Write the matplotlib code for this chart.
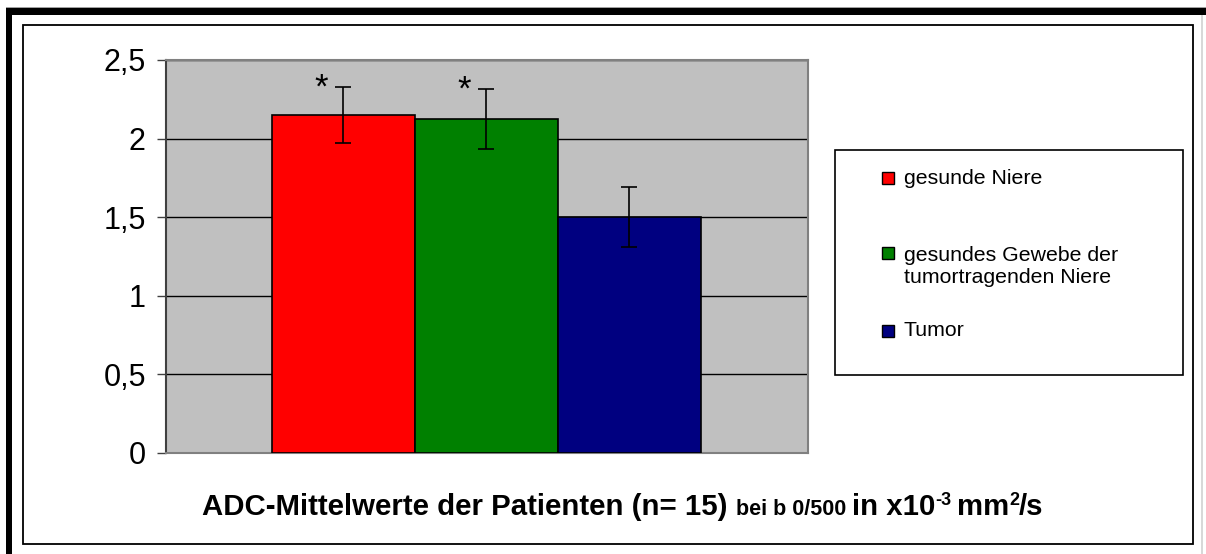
import matplotlib
matplotlib.use("Agg")
import matplotlib.pyplot as plt
from matplotlib.patches import Rectangle

# ---------------- data ----------------
series = ["gesunde Niere", "gesundes Gewebe der\ntumortragenden Niere", "Tumor"]
means = [2.15, 2.125, 1.50]
errors = [0.18, 0.19, 0.19]
significant = [True, True, False]
colors = ["#FF0000", "#008000", "#000080"]
yticks = [0, 0.5, 1, 1.5, 2, 2.5]
ytick_labels = ["0", "0,5", "1", "1,5", "2", "2,5"]

W, H = 1206, 554
fig = plt.figure(figsize=(W / 100, H / 100), dpi=100)
fig.patch.set_facecolor("white")
FAM = ["Liberation Sans", "DejaVu Sans"]


def fx(px):
    return px / W


def fy(py):
    return 1 - py / H


def rect(x0, y0, x1, y1, **kw):
    r = Rectangle((fx(x0), fy(y1)), (x1 - x0) / W, (y1 - y0) / H,
                  transform=fig.transFigure, **kw)
    fig.patches.append(r)
    return r


# outer frame decorations
rect(6, 7, 1206, 8, facecolor="#A0A0A0", edgecolor="none")
rect(6, 8, 1206, 15, facecolor="black", edgecolor="none")
rect(6, 8, 12, 554, facecolor="black", edgecolor="none")
rect(1201, 15, 1203, 554, facecolor="#D8D8D8", edgecolor="none")
rect(23, 25, 1193, 544, facecolor="none", edgecolor="black", linewidth=1.3)

# ---------------- axes ----------------
ax = fig.add_axes([fx(166), fy(453), (808 - 166) / W, (453 - 60) / H])
ax.set_facecolor("#C0C0C0")
ax.set_ylim(0, 2.5)
ax.set_xlim(-1.241, 3.249)
ax.set_axisbelow(True)
ax.yaxis.grid(True, color="black", linewidth=1)

for i, (m, e, c) in enumerate(zip(means, errors, colors)):
    ax.bar(i, m, width=1, color=c, edgecolor="black", linewidth=1.2,
           label=series[i], zorder=3)
    ax.errorbar(i, m, yerr=e, fmt="none", ecolor="black", elinewidth=1.2,
                capsize=6, capthick=1.2, zorder=4)
    if significant[i]:
        ax.text(i - 0.155, m + e - 0.068, "*", ha="center", va="baseline",
                fontsize=25, family=FAM, zorder=5)

ax.set_yticks(yticks)
ax.set_yticklabels(ytick_labels, family=FAM, fontsize=22)
ax.set_xticks([])
ax.tick_params(axis="y", direction="out", length=6.5, width=1,
               color="#404040", pad=8)
for s in ["top", "right", "bottom"]:
    ax.spines[s].set_color("#808080")
    ax.spines[s].set_linewidth(1.5)
ax.spines["left"].set_color("#404040")
ax.spines["left"].set_linewidth(1.5)

# ---------------- legend (Excel style) ----------------
rect(835, 150, 1183, 375, facecolor="white", edgecolor="black", linewidth=1.2)
leg_square_y = [178, 253, 331]
leg_text_y = [178, 266.5, 331]
for lab, c, sy, ty in zip(series, colors, leg_square_y, leg_text_y):
    rect(882, sy - 6, 894, sy + 6, facecolor=c, edgecolor="black", linewidth=1)
    fig.text(fx(904), fy(ty), lab, ha="left", va="center", fontsize=15.3,
             family=FAM, linespacing=1.2)

# ---------------- title (mixed sizes) ----------------
big, small, sup = 21.2, 15.5, 13.0
pieces = [("ADC-Mittelwerte der Patienten (n= 15)", big, 0, True),
          ("bei b 0/500", small, 0, True),
          ("in x10", big, 0, False),
          ("-3", sup, 10, True),
          ("mm", big, 0, False),
          ("2", sup, 10, False),
          ("/s", big, 0, False)]

fig.canvas.draw()
renderer = fig.canvas.get_renderer()


def width_of(s, size):
    t = fig.text(0, 0, s, fontsize=size, fontweight="bold", family=FAM)
    w = t.get_window_extent(renderer).width
    t.remove()
    return w


texts = []
x = 0.0
baseline = 515
for s, size, rise, space_after in pieces:
    t = fig.text(0, fy(baseline - rise), s, fontsize=size,
                 fontweight="bold", family=FAM, ha="left", va="baseline")
    w = t.get_window_extent(renderer).width
    texts.append((t, x))
    x += w
    if space_after:
        x += width_of("x x", size) - width_of("xx", size)
total = x
start = 623 - total / 2
for t, off in texts:
    pos = t.get_position()
    t.set_position((fx(start + off), pos[1]))

fig.savefig("out.png", dpi=100, facecolor="white")
